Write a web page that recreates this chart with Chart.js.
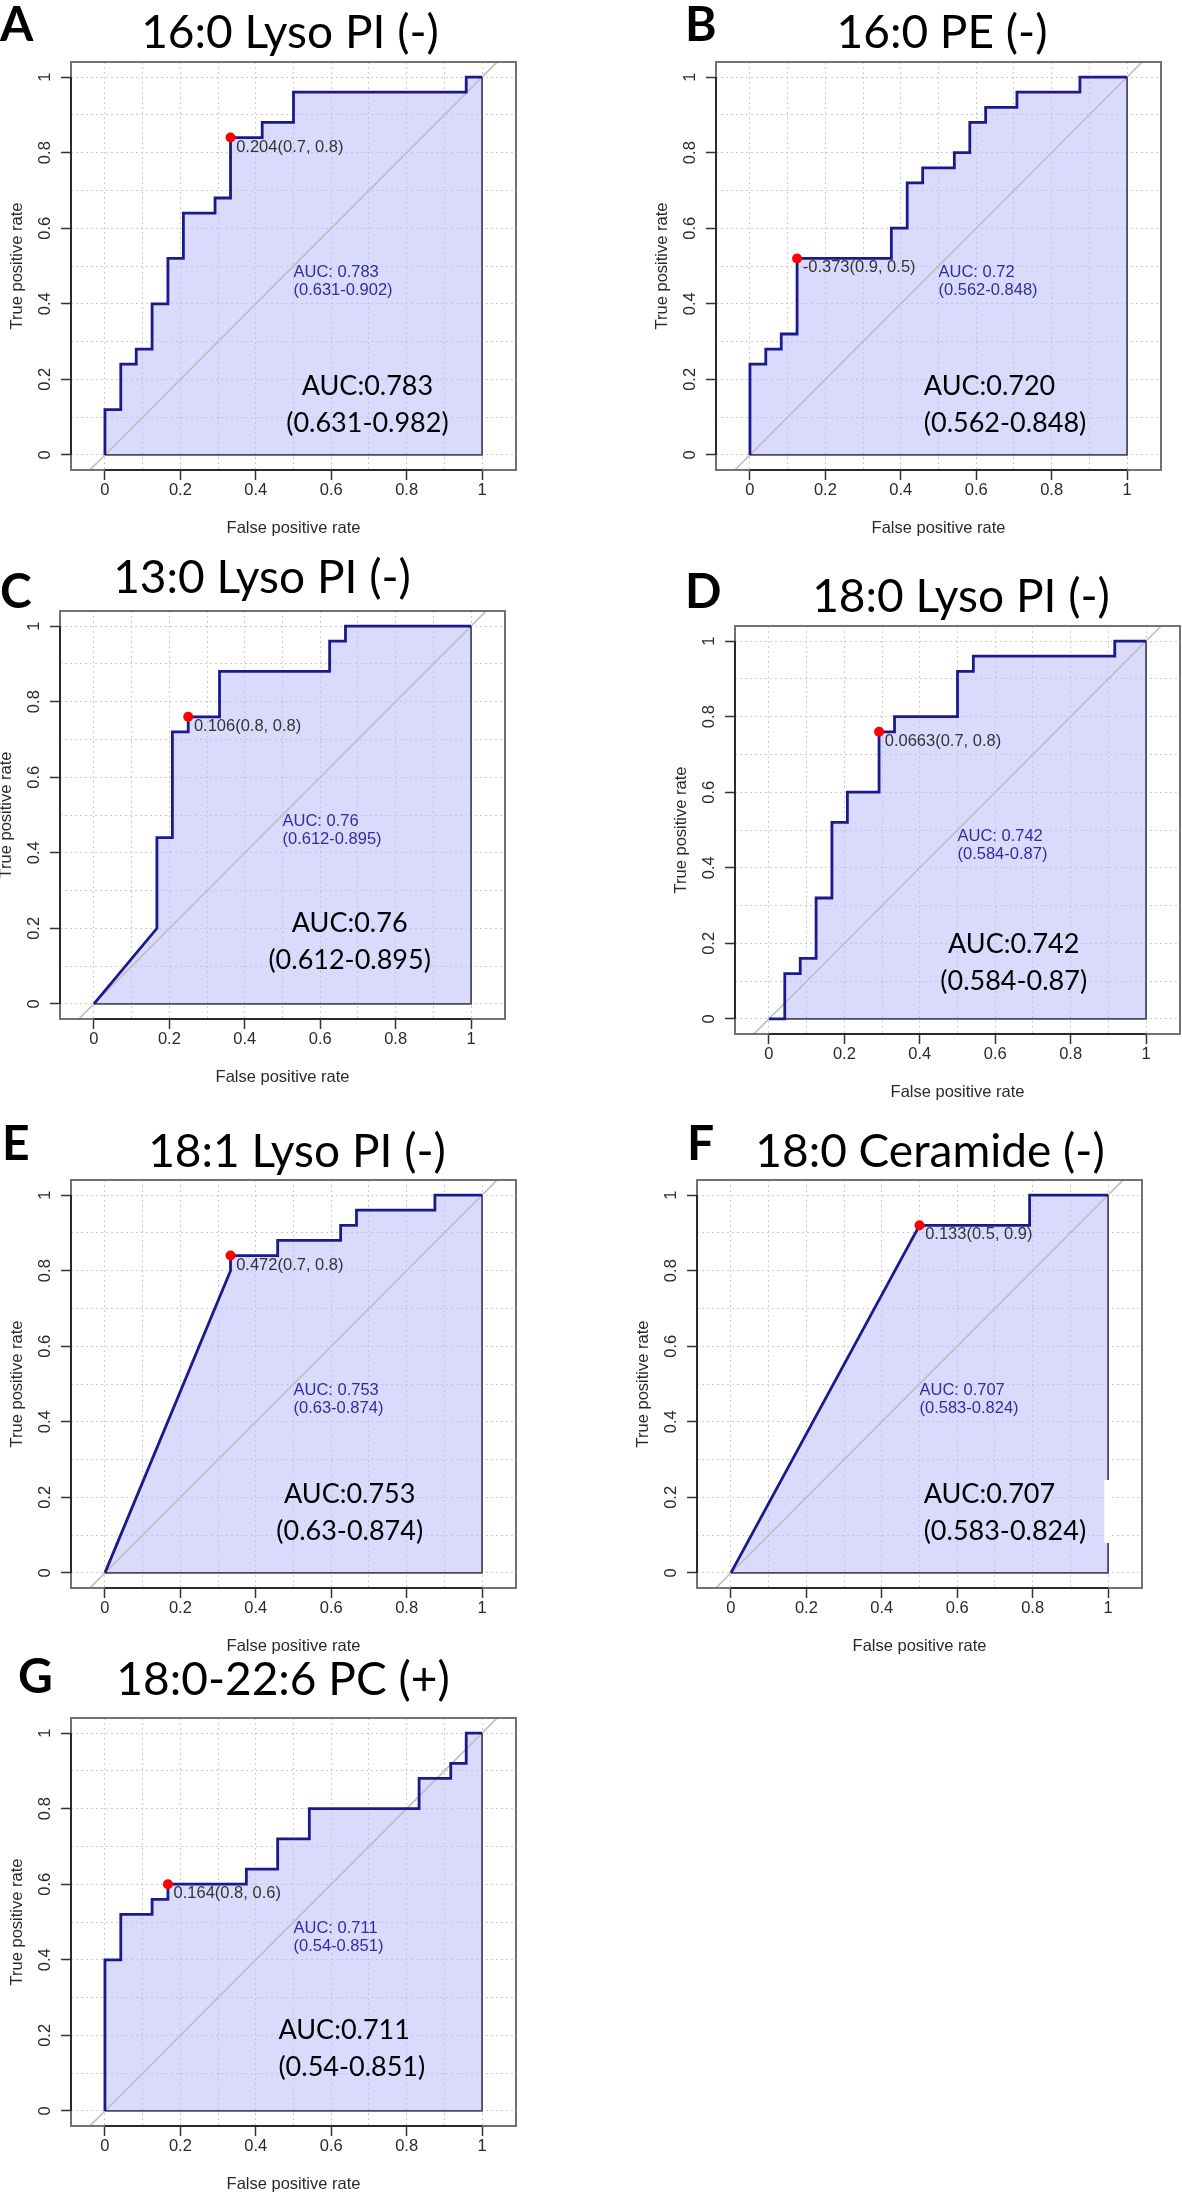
<!DOCTYPE html>
<html>
<head>
<meta charset="utf-8">
<script src="https://cdn.jsdelivr.net/npm/chart.js@4.4.1/dist/chart.umd.min.js"></script>
<style>
  html, body { margin: 0; padding: 0; background: #ffffff; }
  #wrap { position: relative; width: 1182px; height: 2194px; overflow: hidden; background: #ffffff; }
  #wrap canvas { position: absolute; }
</style>
</head>
<body>
<div id="wrap"></div>
<script>
// ---------------- data ----------------
const panelLetters = ['A', 'B', 'C', 'D', 'E', 'F', 'G'];
const panelTitles = ['16:0 Lyso PI (-)', '16:0 PE (-)', '13:0 Lyso PI (-)', '18:0 Lyso PI (-)',
                     '18:1 Lyso PI (-)', '18:0 Ceramide (-)', '18:0-22:6 PC (+)'];

// ROC curve vertices (false positive rate, true positive rate)
const fprA = [0, 0, 0.042, 0.042, 0.083, 0.083, 0.125, 0.125, 0.167, 0.167, 0.208, 0.208, 0.292, 0.292, 0.333, 0.333, 0.417, 0.417, 0.5, 0.5, 0.958, 0.958, 1];
const tprA = [0, 0.12, 0.12, 0.24, 0.24, 0.28, 0.28, 0.4, 0.4, 0.52, 0.52, 0.64, 0.64, 0.68, 0.68, 0.84, 0.84, 0.88, 0.88, 0.96, 0.96, 1, 1];

const fprB = [0, 0, 0.042, 0.042, 0.083, 0.083, 0.125, 0.125, 0.375, 0.375, 0.417, 0.417, 0.458, 0.458, 0.542, 0.542, 0.583, 0.583, 0.625, 0.625, 0.708, 0.708, 0.875, 0.875, 1];
const tprB = [0, 0.24, 0.24, 0.28, 0.28, 0.32, 0.32, 0.52, 0.52, 0.6, 0.6, 0.72, 0.72, 0.76, 0.76, 0.8, 0.8, 0.88, 0.88, 0.92, 0.92, 0.96, 0.96, 1, 1];

const fprC = [0, 0.167, 0.167, 0.208, 0.208, 0.25, 0.25, 0.333, 0.333, 0.625, 0.625, 0.667, 0.667, 1];
const tprC = [0, 0.2, 0.44, 0.44, 0.72, 0.72, 0.76, 0.76, 0.88, 0.88, 0.96, 0.96, 1, 1];

const fprD = [0, 0.042, 0.042, 0.083, 0.083, 0.125, 0.125, 0.167, 0.167, 0.208, 0.208, 0.292, 0.292, 0.333, 0.333, 0.5, 0.5, 0.542, 0.542, 0.917, 0.917, 1];
const tprD = [0, 0, 0.12, 0.12, 0.16, 0.16, 0.32, 0.32, 0.52, 0.52, 0.6, 0.6, 0.76, 0.76, 0.8, 0.8, 0.92, 0.92, 0.96, 0.96, 1, 1];

const fprE = [0, 0.333, 0.333, 0.458, 0.458, 0.625, 0.625, 0.667, 0.667, 0.875, 0.875, 1];
const tprE = [0, 0.8, 0.84, 0.84, 0.88, 0.88, 0.92, 0.92, 0.96, 0.96, 1, 1];

const fprF = [0, 0.5, 0.792, 0.792, 1];
const tprF = [0, 0.92, 0.92, 1, 1];

const fprG = [0, 0, 0.042, 0.042, 0.125, 0.125, 0.167, 0.167, 0.375, 0.375, 0.458, 0.458, 0.542, 0.542, 0.833, 0.833, 0.917, 0.917, 0.958, 0.958, 1];
const tprG = [0, 0.4, 0.4, 0.52, 0.52, 0.56, 0.56, 0.6, 0.6, 0.64, 0.64, 0.72, 0.72, 0.8, 0.8, 0.88, 0.88, 0.92, 0.92, 1, 1];

// best threshold points
const bestFpr = [0.333, 0.125, 0.25, 0.292, 0.333, 0.5, 0.167];
const bestTpr = [0.84, 0.52, 0.76, 0.76, 0.84, 0.92, 0.6];
const thresholdLabels = ['0.204(0.7, 0.8)', '-0.373(0.9, 0.5)', '0.106(0.8, 0.8)', '0.0663(0.7, 0.8)',
                         '0.472(0.7, 0.8)', '0.133(0.5, 0.9)', '0.164(0.8, 0.6)'];

// printed AUC (small, blue) and big annotation
const aucLabels = ['AUC: 0.783', 'AUC: 0.72', 'AUC: 0.76', 'AUC: 0.742', 'AUC: 0.753', 'AUC: 0.707', 'AUC: 0.711'];
const ciLabels = ['(0.631-0.902)', '(0.562-0.848)', '(0.612-0.895)', '(0.584-0.87)', '(0.63-0.874)', '(0.583-0.824)', '(0.54-0.851)'];
const bigAucLabels = ['AUC:0.783', 'AUC:0.720', 'AUC:0.76', 'AUC:0.742', 'AUC:0.753', 'AUC:0.707', 'AUC:0.711'];
const bigCiLabels = ['(0.631-0.982)', '(0.562-0.848)', '(0.612-0.895)', '(0.584-0.87)', '(0.63-0.874)', '(0.583-0.824)', '(0.54-0.851)'];

// axes
const tickValues = [0, 0.2, 0.4, 0.6, 0.8, 1];
const tickLabels = ['0', '0.2', '0.4', '0.6', '0.8', '1'];
const gridValues = [0, 0.1, 0.2, 0.3, 0.4, 0.5, 0.6, 0.7, 0.8, 0.9, 1];
const xLimits = [-0.09, 1.09];
const yLimits = [-0.04, 1.04];
const xTitle = 'False positive rate';
const yTitle = 'True positive rate';

const curves = [[fprA, tprA], [fprB, tprB], [fprC, tprC], [fprD, tprD], [fprE, tprE], [fprF, tprF], [fprG, tprG]];

// ---------------- layout (positions / styles only) ----------------
const PLOT_W = 446, PLOT_H = 408, LEFT_SPACE = 80, TOP_SPACE = 80, RIGHT_SPACE = 4, BOTTOM_SPACE = 70;
const panels = [
  { left: 71,  top: 62,   titleX: 290, titleBase: 48,   letterX: 0,   letterBase: 41,   bigX: 0.696, bigAlign: 'center', bigY: [0.181, 0.084] },
  { left: 716, top: 62,   titleX: 942, titleBase: 48,   letterX: 685, letterBase: 41,   bigX: 0.461, bigAlign: 'left',   bigY: [0.181, 0.084] },
  { left: 60,  top: 611,  titleX: 262, titleBase: 593,  letterX: 0,   letterBase: 608,  bigX: 0.678, bigAlign: 'center', bigY: [0.213, 0.116] },
  { left: 735, top: 626,  titleX: 961, titleBase: 612,  letterX: 685, letterBase: 608,  bigX: 0.649, bigAlign: 'center', bigY: [0.197, 0.099] },
  { left: 71,  top: 1180, titleX: 297, titleBase: 1167, letterX: 2,   letterBase: 1160, bigX: 0.649, bigAlign: 'center', bigY: [0.209, 0.111] },
  { left: 697, top: 1180, titleX: 930, titleBase: 1167, letterX: 687, letterBase: 1160, bigX: 0.511, bigAlign: 'left',   bigY: [0.209, 0.111],
    mask: { x0: 0.99, x1: 1.008, y0: 0.079, y1: 0.246 } },
  { left: 71,  top: 1718, titleX: 283, titleBase: 1695, letterX: 18,  letterBase: 1693, bigX: 0.46,  bigAlign: 'left',   bigY: [0.213, 0.115] }
];

const R_FONT = '"Liberation Sans", Arial, Helvetica, sans-serif';
const BIG_FONT = 'Lato, "Open Sans", sans-serif';
const R_SIZE = 16.5;

function labelFor(v) {
  for (let k = 0; k < tickValues.length; k++) {
    if (Math.abs(tickValues[k] - v) < 1e-9) return tickLabels[k];
  }
  return '';
}
function isLabeled(v) { return labelFor(v) !== ''; }

const decorPlugin = {
  id: 'panelDecor',
  afterDatasetsDraw(chart, args, opts) {
    const i = opts.idx;
    const P = panels[i];
    const ctx = chart.ctx;
    const a = chart.chartArea;
    const xs = chart.scales.x, ys = chart.scales.y;
    const cLeft = P.left - LEFT_SPACE, cTop = P.top - TOP_SPACE;
    ctx.save();
    // plot box
    ctx.strokeStyle = '#727272';
    ctx.lineWidth = 2;
    ctx.strokeRect(a.left, a.top, a.right - a.left, a.bottom - a.top);
    // axis lines spanning first..last tick
    ctx.strokeStyle = '#2a2a2a';
    ctx.beginPath();
    ctx.moveTo(xs.getPixelForValue(tickValues[0]), a.bottom);
    ctx.lineTo(xs.getPixelForValue(tickValues[tickValues.length - 1]), a.bottom);
    ctx.moveTo(a.left, ys.getPixelForValue(tickValues[0]));
    ctx.lineTo(a.left, ys.getPixelForValue(tickValues[tickValues.length - 1]));
    ctx.stroke();

    // white patch present in the source figure (panel F)
    if (P.mask) {
      const mx0 = xs.getPixelForValue(P.mask.x0), mx1 = xs.getPixelForValue(P.mask.x1);
      const my0 = ys.getPixelForValue(P.mask.y1), my1 = ys.getPixelForValue(P.mask.y0);
      ctx.fillStyle = '#ffffff';
      ctx.fillRect(mx0, my0, mx1 - mx0, my1 - my0);
    }

    // threshold label
    ctx.font = R_SIZE + 'px ' + R_FONT;
    ctx.textBaseline = 'middle';
    ctx.textAlign = 'left';
    ctx.fillStyle = '#333333';
    ctx.fillText(thresholdLabels[i], xs.getPixelForValue(bestFpr[i] + 0.015), ys.getPixelForValue(bestTpr[i] - 0.025));

    // printed AUC
    ctx.fillStyle = '#2e2ea0';
    ctx.fillText(aucLabels[i], xs.getPixelForValue(0.5), ys.getPixelForValue(0.484));
    ctx.fillText(ciLabels[i], xs.getPixelForValue(0.5), ys.getPixelForValue(0.435));

    // big annotation
    ctx.font = '27px ' + BIG_FONT;
    ctx.fillStyle = '#000000';
    ctx.textAlign = P.bigAlign;
    ctx.fillText(bigAucLabels[i], xs.getPixelForValue(P.bigX), ys.getPixelForValue(P.bigY[0]));
    ctx.fillText(bigCiLabels[i], xs.getPixelForValue(P.bigX), ys.getPixelForValue(P.bigY[1]));

    // title
    ctx.textBaseline = 'alphabetic';
    ctx.textAlign = 'center';
    ctx.font = '46px ' + BIG_FONT;
    ctx.fillText(panelTitles[i], P.titleX - cLeft, P.titleBase - cTop);

    // panel letter
    ctx.textAlign = 'left';
    ctx.font = 'bold 48px ' + BIG_FONT;
    ctx.fillText(panelLetters[i], P.letterX - cLeft, P.letterBase - cTop);
    ctx.restore();
  }
};

function pts(fx, ty) { return fx.map((v, k) => ({ x: v, y: ty[k] })); }

function makeScale(axis) {
  const horizontal = axis === 'x';
  const lim = horizontal ? xLimits : yLimits;
  return {
    type: 'linear',
    position: horizontal ? 'bottom' : 'left',
    min: lim[0],
    max: lim[1],
    afterBuildTicks: s => { s.ticks = gridValues.map(v => ({ value: v })); },
    afterFit: s => { if (horizontal) s.height = BOTTOM_SPACE; else s.width = LEFT_SPACE; },
    ticks: {
      autoSkip: false,
      callback: v => labelFor(v),
      font: { family: R_FONT, size: R_SIZE },
      color: '#2a2a2a',
      padding: horizontal ? 10.1 : 4.5,
      minRotation: horizontal ? 0 : 90,
      maxRotation: horizontal ? 0 : 90,
      crossAlign: 'center'
    },
    grid: {
      color: '#cdcdcd',
      lineWidth: 1,
      drawTicks: true,
      tickLength: 10,
      tickWidth: 1.5,
      tickColor: c => (c.tick && isLabeled(c.tick.value)) ? '#333333' : 'rgba(0,0,0,0)'
    },
    border: { display: false, dash: [2, 3] },
    title: {
      display: true,
      text: horizontal ? xTitle : yTitle,
      color: '#2a2a2a',
      font: { family: R_FONT, size: R_SIZE },
      padding: horizontal ? { top: 0, bottom: 2.1 } : { top: 16.1, bottom: 0 }
    }
  };
}

const wrap = document.getElementById('wrap');
panels.forEach((P, i) => {
  const cv = document.createElement('canvas');
  const W = LEFT_SPACE + PLOT_W + RIGHT_SPACE, H = TOP_SPACE + PLOT_H + BOTTOM_SPACE;
  cv.width = W; cv.height = H;
  cv.style.left = (P.left - LEFT_SPACE) + 'px';
  cv.style.top = (P.top - TOP_SPACE) + 'px';
  cv.style.width = W + 'px'; cv.style.height = H + 'px';
  wrap.appendChild(cv);

  const fx = curves[i][0], ty = curves[i][1];
  const n = fx.length;
  const datasets = [
    { // AUC polygon fill
      data: pts(fx, ty), borderWidth: 0, borderColor: 'rgba(0,0,0,0)', pointRadius: 0,
      fill: 'origin', backgroundColor: 'rgba(185,185,250,0.52)', order: 4
    },
    { // chance diagonal
      data: [{ x: xLimits[0], y: xLimits[0] }, { x: xLimits[1], y: xLimits[1] }],
      borderColor: '#bebebe', borderWidth: 1.6, pointRadius: 0, fill: false, order: 3
    },
    { // polygon border (right & bottom edges)
      data: [{ x: fx[n - 1], y: ty[n - 1] }, { x: fx[n - 1], y: 0 }, { x: fx[0], y: 0 }],
      borderColor: '#4a4a62', borderWidth: 1.8, pointRadius: 0, fill: false, order: 2
    },
    { // ROC curve
      data: pts(fx, ty), borderColor: '#1a1a8c', borderWidth: 2.8, pointRadius: 0, fill: false,
      borderJoinStyle: 'miter', borderCapStyle: 'butt', order: 1
    },
    { // best threshold
      data: [{ x: bestFpr[i], y: bestTpr[i] }], showLine: false, pointRadius: 5,
      pointBackgroundColor: '#ff0000', pointBorderColor: '#ff0000', pointBorderWidth: 0, order: 0
    }
  ];

  new Chart(cv, {
    type: 'line',
    data: { datasets },
    options: {
      responsive: false,
      animation: false,
      events: [],
      layout: { padding: { top: TOP_SPACE, left: 0, right: RIGHT_SPACE, bottom: 0 } },
      plugins: {
        legend: { display: false },
        tooltip: { enabled: false },
        title: { display: false },
        panelDecor: { idx: i }
      },
      scales: { x: makeScale('x'), y: makeScale('y') }
    },
    plugins: [decorPlugin]
  });
});
</script>
</body>
</html>
